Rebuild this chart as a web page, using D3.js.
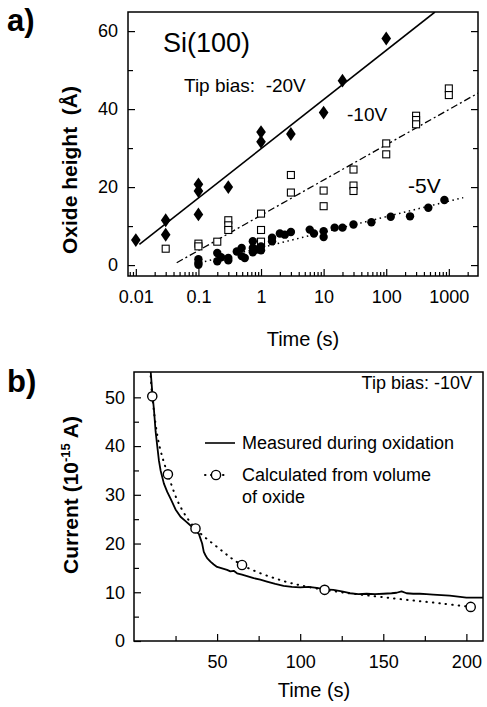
<!DOCTYPE html>
<html><head><meta charset="utf-8">
<script src="https://cdn.jsdelivr.net/npm/d3@7"></script>
<style>
body{margin:0;background:#fff;}
svg{display:block;font-family:"Liberation Sans",Arial,sans-serif;}
</style></head>
<body>
<svg id="c" width="487" height="707"></svg>
<script>
// ---------- Panel a) data ----------
const v20T = [0.01, 0.03, 0.03, 0.1, 0.1, 0.1, 0.3, 1, 1, 3, 10, 20, 100];
const v20H = [6.4, 11.5, 7.8, 20.7, 19.0, 13.0, 20.0, 34.1, 31.6, 33.6, 39.1, 47.3, 58.1];

const v10T = [0.03, 0.1, 0.1, 0.2, 0.3, 0.3, 0.3, 1, 1, 1, 3, 3, 10, 10, 30, 30, 30, 100, 100, 300, 300, 300, 1000, 1000];
const v10H = [4.2, 5.5, 4.8, 6.0, 11.5, 10.2, 9.0, 13.2, 9.0, 6.0, 23.1, 18.6, 19.1, 15.1, 24.5, 20.4, 19.0, 31.2, 28.4, 38.3, 37.2, 36.1, 45.3, 43.6];

const v5T = [0.1, 0.1, 0.1, 0.2, 0.2, 0.23, 0.3, 0.3, 0.41, 0.49, 0.49, 0.55, 0.74, 0.74, 0.74, 0.85, 1, 1, 1.5, 1.5, 2, 2.4, 3, 6, 7, 10, 10, 15, 20, 30, 58, 118, 240, 470, 850];
const v5H = [1.5, 0.6, 0.1, 3.1, 1.0, 2.0, 1.8, 1.2, 3.5, 4.4, 2.3, 1.8, 6.1, 4.4, 3.3, 4.0, 3.8, 4.8, 7.0, 6.1, 8.1, 7.8, 8.5, 9.1, 8.1, 8.7, 7.2, 9.6, 9.6, 10.4, 11.0, 12.4, 12.5, 14.7, 16.7];

// straight-line fits (end points)
const fit20T = [0.0114, 600], fit20H = [5.3, 64.9];
const fit10T = [0.045, 2930], fit10H = [0.6, 44.1];
const fit5T  = [0.106, 1700], fit5H  = [0.6, 17.3];

const aXTicks = [0.01, 0.1, 1, 10, 100, 1000];
const aXTickLabels = ["0.01", "0.1", "1", "10", "100", "1000"];
const aYTicks = [0, 20, 40, 60];

// ---------- Panel b) data ----------
const measT = [10, 11, 12, 13, 14, 15, 16, 18, 20, 22, 25, 28, 31, 34, 37, 39, 40, 41, 42, 43, 44, 46, 48, 50, 53, 56, 58, 60, 62, 65, 68, 72, 76, 80, 85, 90, 95, 100, 105, 110, 115, 120, 125, 130, 135, 140, 145, 150, 155, 158, 161, 164, 168, 172, 176, 180, 185, 190, 195, 200, 205, 210];
const measI = [55.5, 51, 47.5, 43, 40, 37, 35, 32.3, 30.6, 29.2, 27, 25.5, 24.6, 23.7, 22.6, 22.0, 21.0, 20.0, 18.3, 17.6, 17.0, 16.3, 15.7, 15.2, 14.9, 14.6, 14.3, 14.4, 13.9, 13.6, 13.3, 12.9, 12.6, 12.2, 11.7, 11.3, 11.1, 11.0, 11.1, 10.9, 10.6, 10.5, 10.2, 9.8, 9.6, 9.7, 9.6, 9.7, 9.8, 9.9, 10.2, 9.8, 9.7, 9.7, 9.6, 9.5, 9.4, 9.3, 9.1, 8.9, 8.9, 8.9];

const calcT = [11, 20.4, 37, 65, 114.7, 202.6];
const calcI = [50.2, 34.2, 23.1, 15.6, 10.5, 7.0];
const calcCurveT = [9.6, 11, 15, 20.4, 28, 37, 50, 65, 90, 114.7, 155, 185, 202.6];
const calcCurveI = [57, 50.2, 40.5, 34.2, 27.5, 23.1, 19.3, 15.6, 12.3, 10.5, 8.8, 7.7, 7.0];

const bXTicks = [50, 100, 150, 200];
const bXMinor = [25, 75, 125, 175];
const bYTicks = [0, 10, 20, 30, 40, 50];
const bYMinor = [5, 15, 25, 35, 45];

const svg = d3.select("#c");
const FS = 18;

// =================== Panel a ===================
const A = {l:128, r:478, t:12, b:276};
const xa = d3.scaleLog().domain([Math.pow(10,-2.125), Math.pow(10,3.466)]).range([A.l, A.r]);
const ya = d3.scaleLinear().domain([-2.8, 64.9]).range([A.b, A.t]);

const ga = svg.append("g");
const clipA = svg.append("clipPath").attr("id","clipA");
clipA.append("rect").attr("x",A.l).attr("y",A.t).attr("width",A.r-A.l).attr("height",A.b-A.t);

// x axis (ticks inward)
const minorA = [];
for (let e=-3; e<=3; e++) for (let m=2; m<=9; m++){ const v=m*Math.pow(10,e); if (v>=xa.domain()[0] && v<=xa.domain()[1]) minorA.push(v); }
ga.append("g").attr("transform",`translate(0,${A.b})`)
  .call(d3.axisBottom(xa).tickValues(aXTicks).tickSize(-7).tickPadding(14).tickFormat((d,i)=>aXTickLabels[i]));
ga.append("g").attr("transform",`translate(0,${A.b})`)
  .call(d3.axisBottom(xa).tickValues(minorA).tickSize(-4).tickFormat(""));
ga.append("g").attr("transform",`translate(${A.l},0)`)
  .call(d3.axisLeft(ya).tickValues(aYTicks).tickSize(-7).tickPadding(10).tickFormat(d3.format("d")));
ga.append("g").attr("transform",`translate(${A.l},0)`)
  .call(d3.axisLeft(ya).tickValues([10,30,50]).tickSize(-5).tickFormat(""));
ga.append("g").attr("transform",`translate(${A.r},0)`)
  .call(d3.axisRight(ya).tickValues(aYTicks).tickSize(-7).tickFormat(""));
ga.append("g").attr("transform",`translate(${A.r},0)`)
  .call(d3.axisRight(ya).tickValues([10,30,50]).tickSize(-5).tickFormat(""));
ga.selectAll(".domain").remove();
ga.selectAll(".tick line").attr("stroke","#000").attr("stroke-width",1.2);
ga.selectAll(".tick text").attr("font-size",FS).attr("fill","#000").attr("font-family","Liberation Sans, Arial, sans-serif");
ga.append("rect").attr("x",A.l).attr("y",A.t).attr("width",A.r-A.l).attr("height",A.b-A.t)
  .attr("fill","none").attr("stroke","#000").attr("stroke-width",1.5);

// fit lines
const la = d3.line().x(d=>xa(d[0])).y(d=>ya(d[1]));
const pa = ga.append("g").attr("clip-path","url(#clipA)");
pa.append("path").attr("d", la(d3.zip(fit20T, fit20H))).attr("stroke","#000").attr("stroke-width",1.6).attr("fill","none");
pa.append("path").attr("d", la(d3.zip(fit10T, fit10H))).attr("stroke","#000").attr("stroke-width",1.3).attr("fill","none").attr("stroke-dasharray","7,3,2,3");
pa.append("path").attr("d", la(d3.zip(fit5T, fit5H))).attr("stroke","#000").attr("stroke-width",1.5).attr("fill","none").attr("stroke-dasharray","1.5,3.5");

// markers
pa.selectAll(".sq").data(d3.zip(v10T, v10H)).join("rect")
  .attr("x",d=>xa(d[0])-3.5).attr("y",d=>ya(d[1])-3.5).attr("width",7).attr("height",7)
  .attr("fill","#fff").attr("stroke","#000").attr("stroke-width",1.1);
pa.selectAll(".ci").data(d3.zip(v5T, v5H)).join("circle")
  .attr("cx",d=>xa(d[0])).attr("cy",d=>ya(d[1])).attr("r",4.2).attr("fill","#000");
const dsym = d3.symbol().type(d3.symbolDiamond).size(56);
pa.selectAll(".di").data(d3.zip(v20T, v20H)).join("path")
  .attr("d", dsym).attr("transform",d=>`translate(${xa(d[0])},${ya(d[1])}) scale(1.2,1)`).attr("fill","#000");

// texts
ga.append("text").attr("x",163).attr("y",52).attr("font-size",27).text("Si(100)");
ga.append("text").attr("x",184).attr("y",92).attr("font-size",19).attr("xml:space","preserve").text("Tip bias:  -20V");
ga.append("text").attr("x",347).attr("y",121).attr("font-size",19).text("-10V");
ga.append("text").attr("x",408).attr("y",193).attr("font-size",21).text("-5V");
ga.append("text").attr("x",(A.l+A.r)/2).attr("y",346).attr("text-anchor","middle").attr("font-size",20).text("Time (s)");
ga.append("text").attr("transform","translate(77,170) rotate(-90)").attr("text-anchor","middle")
  .attr("font-size",21).attr("font-weight","bold").attr("xml:space","preserve").text("Oxide height  (Å)");
svg.append("text").attr("x",7).attr("y",31).attr("font-size",31).attr("font-weight","bold").text("a)");

// =================== Panel b ===================
const B = {l:134, r:483, t:372, b:641};
const xb = d3.scaleLinear().domain([0, 210]).range([B.l, B.r]);
const yb = d3.scaleLinear().domain([0, 55.2]).range([B.b, B.t]);
const gb = svg.append("g");
svg.append("clipPath").attr("id","clipB").append("rect").attr("x",B.l).attr("y",B.t).attr("width",B.r-B.l).attr("height",B.b-B.t);

gb.append("g").attr("transform",`translate(0,${B.b})`)
  .call(d3.axisBottom(xb).tickValues(bXTicks).tickSize(-7).tickPadding(14).tickFormat(d3.format("d")));
gb.append("g").attr("transform",`translate(0,${B.b})`)
  .call(d3.axisBottom(xb).tickValues(bXMinor).tickSize(-5).tickFormat(""));
gb.append("g").attr("transform",`translate(${B.l},0)`)
  .call(d3.axisLeft(yb).tickValues(bYTicks).tickSize(-7).tickPadding(9).tickFormat(d3.format("d")));
gb.append("g").attr("transform",`translate(${B.l},0)`)
  .call(d3.axisLeft(yb).tickValues(bYMinor).tickSize(-5).tickFormat(""));
gb.selectAll(".domain").remove();
gb.selectAll(".tick line").attr("stroke","#000").attr("stroke-width",1.2);
gb.selectAll(".tick text").attr("font-size",FS).attr("fill","#000").attr("font-family","Liberation Sans, Arial, sans-serif");
gb.append("rect").attr("x",B.l).attr("y",B.t).attr("width",B.r-B.l).attr("height",B.b-B.t)
  .attr("fill","none").attr("stroke","#000").attr("stroke-width",1.5);

const pb = gb.append("g").attr("clip-path","url(#clipB)");
const lb = d3.line().x(d=>xb(d[0])).y(d=>yb(d[1]));
pb.append("path").attr("d", lb.curve(d3.curveCatmullRom)(d3.zip(calcCurveT, calcCurveI)))
  .attr("fill","none").attr("stroke","#000").attr("stroke-width",2).attr("stroke-linecap","round").attr("stroke-dasharray","0.5,6");
pb.append("path").attr("d", d3.line().x(d=>xb(d[0])).y(d=>yb(d[1]))(d3.zip(measT, measI)))
  .attr("fill","none").attr("stroke","#000").attr("stroke-width",1.8).attr("stroke-linejoin","round");
pb.selectAll(".oc").data(d3.zip(calcT, calcI)).join("circle")
  .attr("cx",d=>xb(d[0])).attr("cy",d=>yb(d[1])).attr("r",4.6)
  .attr("fill","#fff").attr("stroke","#000").attr("stroke-width",1.4);

// legend
gb.append("line").attr("x1",205).attr("x2",235).attr("y1",443).attr("y2",443).attr("stroke","#000").attr("stroke-width",1.6);
gb.append("text").attr("x",242).attr("y",449).attr("font-size",FS).text("Measured during oxidation");
gb.append("line").attr("x1",205).attr("x2",229).attr("y1",475).attr("y2",475).attr("stroke","#000").attr("stroke-width",2)
  .attr("stroke-linecap","round").attr("stroke-dasharray","0.5,5.5");
gb.append("circle").attr("cx",216).attr("cy",475).attr("r",4.6).attr("fill","#fff").attr("stroke","#000").attr("stroke-width",1.4);
gb.append("text").attr("x",242).attr("y",481).attr("font-size",FS).text("Calculated from volume");
gb.append("text").attr("x",242).attr("y",503).attr("font-size",FS).text("of oxide");
gb.append("text").attr("x",472).attr("y",389).attr("text-anchor","end").attr("font-size",FS).text("Tip bias: -10V");

gb.append("text").attr("x",314).attr("y",697).attr("text-anchor","middle").attr("font-size",20).text("Time (s)");
const yl = gb.append("text").attr("transform","translate(78,495) rotate(-90)").attr("text-anchor","middle")
  .attr("font-size",21).attr("font-weight","bold");
yl.append("tspan").text("Current (10");
yl.append("tspan").attr("dy",-8).attr("font-size",13).text("-15");
yl.append("tspan").attr("dy",8).text(" A)");
svg.append("text").attr("x",7).attr("y",392).attr("font-size",31).attr("font-weight","bold").text("b)");
</script>
</body></html>
